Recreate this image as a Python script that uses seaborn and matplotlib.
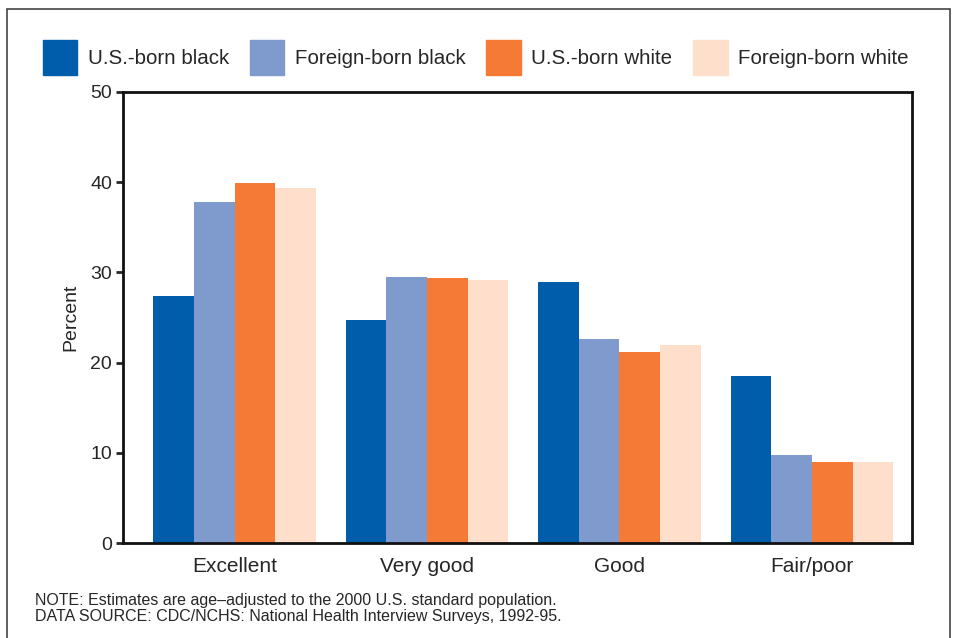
import pandas as pd
import matplotlib.pyplot as plt
import matplotlib.patches as mpatches
import seaborn as sns

sns.set_style("white")
plt.rcParams["font.family"] = ["Liberation Sans", "DejaVu Sans"]

# data
categories = ["Excellent", "Very good", "Good", "Fair/poor"]
groups = ["U.S.-born black", "Foreign-born black", "U.S.-born white", "Foreign-born white"]
us_black = [27.4, 24.7, 28.9, 18.5]
foreign_black = [37.8, 29.5, 22.6, 9.8]
us_white = [39.9, 29.4, 21.2, 9.0]
foreign_white = [39.4, 29.2, 22.0, 9.0]
colors = ["#005dab", "#7f9bcd", "#f47a36", "#fddfcb"]

df = pd.DataFrame({
    "status": categories * 4,
    "group": sum([[g] * 4 for g in groups], []),
    "percent": us_black + foreign_black + us_white + foreign_white,
})

fig = plt.figure(figsize=(9.58, 6.38), dpi=100)
ax = fig.add_axes([123 / 958, 1 - 543 / 638, (912 - 123) / 958, (543 - 92) / 638])

sns.barplot(data=df, x="status", y="percent", hue="group", order=categories,
            hue_order=groups, palette=colors, width=0.845, saturation=1,
            linewidth=0, edgecolor="none", ax=ax, legend=False)

ax.set_ylim(0, 50)
ax.set_yticks([0, 10, 20, 30, 40, 50])
ax.set_xlim(-0.58, 3.52)
ax.set_xlabel("")
ax.set_ylabel("Percent", fontsize=14, labelpad=8)
ax.tick_params(axis="y", length=5, width=2, labelsize=14, left=True, pad=3)
ax.tick_params(axis="x", length=0, labelsize=15, pad=10)
for s in ax.spines.values():
    s.set_linewidth(2)
    s.set_color("#111111")

# legend across the top
handles = [mpatches.Patch(color=c, label=g) for c, g in zip(colors, groups)]
leg = fig.legend(handles=handles, loc="upper left", bbox_to_anchor=(24 / 958, 1 - 22 / 638),
                 ncol=4, frameon=False, fontsize=14.8, handlelength=1.7, handleheight=2.2,
                 columnspacing=1.0, handletextpad=0.5)

fig.text(35 / 958, 1 - 600 / 638,
         "NOTE: Estimates are age\u2013adjusted to the 2000 U.S. standard population.",
         fontsize=11.5, va="center")
fig.text(35 / 958, 1 - 617 / 638,
         "DATA SOURCE: CDC/NCHS: National Health Interview Surveys, 1992-95.",
         fontsize=11.5, va="center")

# outer frame
fig.patches.append(mpatches.Rectangle((7 / 958, -0.05), (950 - 7) / 958, 1.05 - 9 / 638,
                                      transform=fig.transFigure, fill=False,
                                      edgecolor="#444444", linewidth=1.2))

plt.savefig("out.png", dpi=100)
